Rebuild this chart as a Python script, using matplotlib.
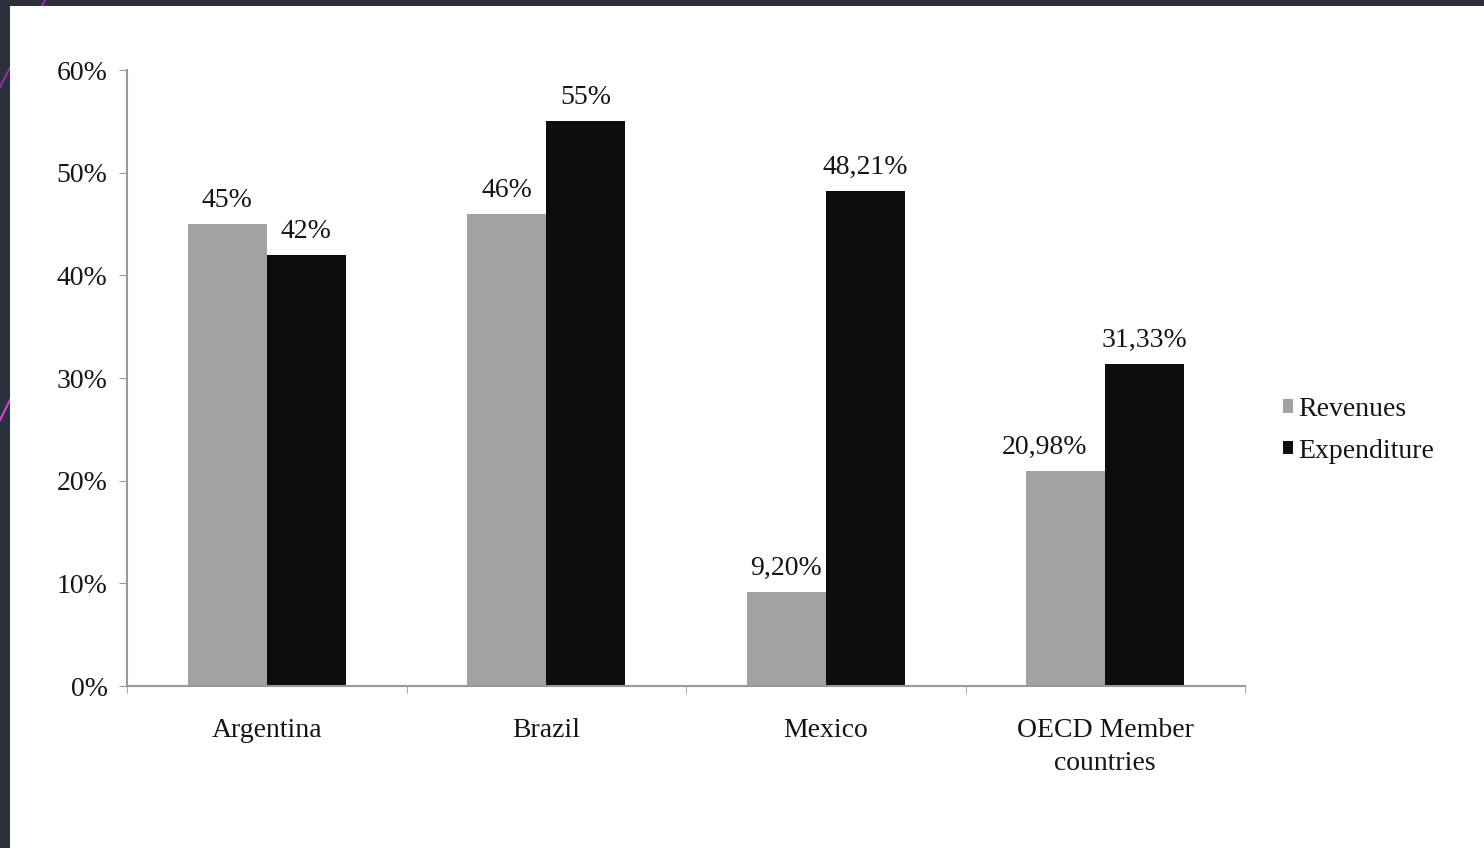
import matplotlib
matplotlib.use("Agg")
import matplotlib.pyplot as plt
from matplotlib.patches import Rectangle
from matplotlib.lines import Line2D
import numpy as np

categories = ["Argentina", "Brazil", "Mexico", "OECD Member\ncountries"]
revenues = [45, 46, 9.20, 20.98]
expenditure = [42, 55, 48.21, 31.33]
rev_labels = ["45%", "46%", "9,20%", "20,98%"]
exp_labels = ["42%", "55%", "48,21%", "31,33%"]
yticks = [0, 10, 20, 30, 40, 50, 60]
ytick_labels = ["0%", "10%", "20%", "30%", "40%", "50%", "60%"]
series_names = ["Revenues", "Expenditure"]

plt.rcParams['font.family'] = ['Liberation Serif', 'DejaVu Serif']
FS = 20
TXT = "#151515"

W, H = 1484, 848
fig = plt.figure(figsize=(W / 100, H / 100), dpi=100)
fig.patch.set_facecolor("#2b313a")

# decorative pink lines in border
fig.add_artist(Line2D([45 / W, 0], [1, 1 - 87 / H], color="#b02ab8", lw=1.2, zorder=0))
fig.add_artist(Line2D([10 / W, 0], [1 - 400 / H, 1 - 420 / H], color="#d43ee0", lw=1.5, zorder=0))
# white panel
fig.add_artist(Rectangle((10 / W, 0), 1 - 10 / W, 1 - 6 / H, transform=fig.transFigure,
                         facecolor="white", edgecolor="none", zorder=1))

ax = fig.add_axes([127 / W, (H - 686) / H, (1245 - 127) / W, (686 - 70) / H], zorder=2)
ax.set_facecolor("none")

x = np.arange(len(categories))
bw = 0.283
rev_color = "#a2a2a2"
exp_color = "#0d0d0d"
b1 = ax.bar(x - bw / 2, revenues, bw, color=rev_color, label=series_names[0])
b2 = ax.bar(x + bw / 2, expenditure, bw, color=exp_color, label=series_names[1])

for bars, labs in ((b1, rev_labels), (b2, exp_labels)):
    for i, (rect, lab) in enumerate(zip(bars, labs)):
        dx = -15 if (bars is b1 and i == 3) else 0
        ax.annotate(lab, (rect.get_x() + rect.get_width() / 2, rect.get_height()),
                    xytext=(dx, 8), textcoords="offset points", ha="center", va="bottom",
                    fontsize=FS, color=TXT)

ax.set_xlim(-0.5, len(categories) - 0.5)
ax.set_ylim(0, 60)
ax.set_yticks(yticks)
ax.set_yticklabels(ytick_labels, fontsize=FS, color=TXT)
ax.set_xticks(x)
ax.set_xticklabels(categories, fontsize=FS, color=TXT, linespacing=1.45)
ax.tick_params(axis="x", length=0, pad=23)
ax.set_xticks(np.arange(-0.5, len(categories), 1.0), minor=True)
ax.tick_params(axis="x", which="minor", length=5, color="#999999", direction="out")
ax.tick_params(axis="y", length=6, color="#999999", direction="out", pad=8)

for s in ["top", "right"]:
    ax.spines[s].set_visible(False)
for s in ["left", "bottom"]:
    ax.spines[s].set_color("#999999")
    ax.spines[s].set_linewidth(1.5)

leg = ax.legend(loc="center left", bbox_to_anchor=(1.024, 0.415), frameon=False,
                fontsize=FS, handlelength=0.36, handleheight=0.36, handletextpad=0.2,
                labelspacing=0.6, borderaxespad=0)
for t in leg.get_texts():
    t.set_color(TXT)

fig.savefig("out.png", dpi=100, facecolor=fig.get_facecolor())
